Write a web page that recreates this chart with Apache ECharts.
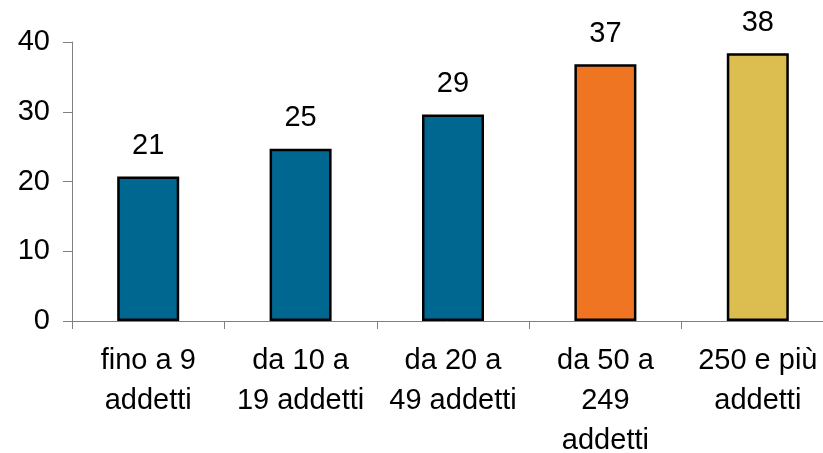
<!DOCTYPE html>
<html>
<head>
<meta charset="utf-8">
<script src="https://cdn.jsdelivr.net/npm/echarts@6/dist/echarts.min.js"></script>
<style>
  html, body { margin: 0; padding: 0; background: #fff; }
  #chart { width: 823px; height: 453px; }
</style>
</head>
<body>
<div id="chart"></div>
<script>
const categories = ['fino a 9\naddetti', 'da 10 a\n19 addetti', 'da 20 a\n49 addetti', 'da 50 a\n249\naddetti', '250 e più\naddetti'];
const values = [20.7, 24.7, 29.6, 36.8, 38.4];
const valueLabels = ['21', '25', '29', '37', '38'];
const barColors = ['#006890', '#006890', '#006890', '#f07522', '#dcbe50'];
const yTicks = {min: 0, max: 40, interval: 10};

const font = 'Liberation Sans, Arial, sans-serif';
const chart = echarts.init(document.getElementById('chart'));

chart.setOption({
    animation: false,
    grid: {left: 72, top: 42, bottom: 132, right: -11, containLabel: false, outerBoundsMode: 'none'},
    xAxis: {
        type: 'category',
        data: categories,
        boundaryGap: true,
        axisLine: {lineStyle: {color: '#808080', width: 1}},
        axisTick: {show: true, length: 8, lineStyle: {color: '#808080'}},
        axisLabel: {
            interval: 0,
            color: '#000',
            fontFamily: font,
            fontSize: 29,
            lineHeight: 40,
            margin: 20,
        },
    },
    yAxis: {
        type: 'value',
        min: yTicks.min,
        max: yTicks.max,
        interval: yTicks.interval,
        splitLine: {show: false},
        axisLine: {show: true, lineStyle: {color: '#808080', width: 1}},
        axisTick: {show: true, inside: false, length: 9, lineStyle: {color: '#808080'}},
        axisLabel: {
            color: '#000',
            fontFamily: font,
            fontSize: 29,
            margin: 22,
        },
    },
    series: [
        {
            type: 'bar',
            barWidth: 62,
            data: values.map((v, i) => ({
                value: v,
                itemStyle: {color: barColors[i], borderColor: '#000', borderWidth: 2.5},
            })),
            label: {
                show: true,
                position: 'top',
                distance: 16,
                color: '#000',
                fontFamily: font,
                fontSize: 29,
                formatter: (p) => valueLabels[p.dataIndex],
            },
        },
    ],
});
</script>
</body>
</html>
